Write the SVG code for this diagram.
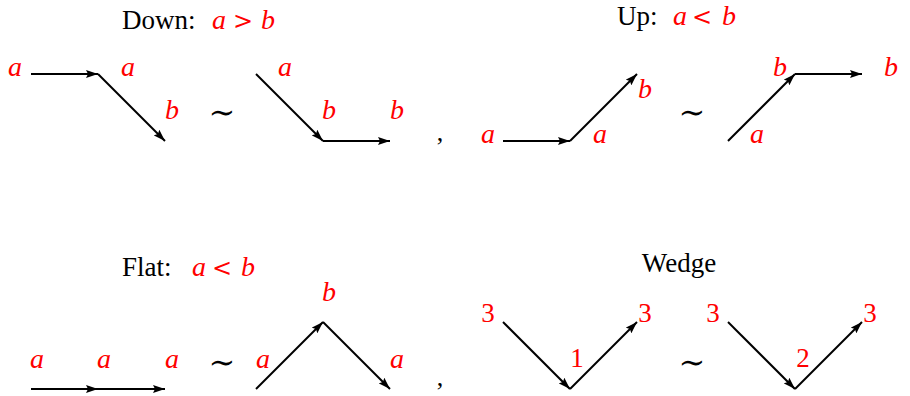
<svg xmlns="http://www.w3.org/2000/svg" width="910" height="396" viewBox="0 0 910 396">
<style>
.t{font-family:"Liberation Serif",serif;font-size:27px;fill:#000}
.r{font-family:"DejaVu Serif",serif;font-size:24px;fill:#ff0000;text-anchor:middle}
.l{font-family:"Liberation Serif",serif;font-style:italic;font-size:28px;fill:#ff0000;text-anchor:middle}
.n{font-family:"Liberation Serif",serif;font-size:27px;fill:#ff0000;text-anchor:middle}
.s{font-family:"DejaVu Serif",serif;font-size:32px;fill:#000;text-anchor:middle}
.c{font-family:"Liberation Serif",serif;font-size:26px;fill:#000;text-anchor:middle}
.e{stroke:#000;stroke-width:2;fill:none}
.a{marker-end:url(#ah)}
</style>
<defs>
<marker id="ah" markerUnits="userSpaceOnUse" markerWidth="13" markerHeight="9" refX="12" refY="4.5" orient="auto">
<path d="M0,0.5 L12,4.5 L0,8.5 L2,4.5 z" fill="#000"/>
</marker>
</defs>
<g id="connectors">
<line class="e a" x1="31" y1="74" x2="98" y2="74"/>
<line class="e a" x1="98" y1="74" x2="165" y2="141"/>
<line class="e a" x1="256" y1="74" x2="323" y2="141"/>
<line class="e a" x1="323" y1="141" x2="390" y2="141"/>
<line class="e a" x1="503" y1="141" x2="570" y2="141"/>
<line class="e a" x1="570" y1="141" x2="637" y2="74"/>
<line class="e a" x1="728" y1="141" x2="795" y2="74"/>
<line class="e a" x1="795" y1="74" x2="862" y2="74"/>
<line class="e a" x1="31" y1="389" x2="98" y2="389"/>
<line class="e a" x1="98" y1="389" x2="165" y2="389"/>
<line class="e a" x1="256" y1="389" x2="323" y2="322"/>
<line class="e a" x1="323" y1="322" x2="390" y2="389"/>
<line class="e a" x1="503" y1="322" x2="570" y2="389"/>
<line class="e a" x1="570" y1="389" x2="637" y2="322"/>
<line class="e a" x1="728" y1="322" x2="795" y2="389"/>
<line class="e a" x1="795" y1="389" x2="862" y2="322"/>
</g>
<g id="down">
<text class="t" x="122" y="29">Down:</text>
<text class="l" x="219" y="29">a</text>
<text class="r" x="243" y="29">&gt;</text>
<text class="l" x="268" y="29">b</text>
<text class="l" x="15" y="76">a</text>
<text class="l" x="128" y="76">a</text>
<text class="l" x="172" y="119">b</text>
<text class="s" x="222" y="123">∼</text>
<text class="l" x="285" y="76">a</text>
<text class="l" x="329" y="119">b</text>
<text class="l" x="397" y="119">b</text>
<text class="c" x="440" y="141">,</text>
</g>
<g id="up">
<text class="t" x="617" y="25">Up:</text>
<text class="l" x="680" y="25">a</text>
<text class="r" x="702" y="25">&lt;</text>
<text class="l" x="729" y="25">b</text>
<text class="l" x="488" y="143">a</text>
<text class="l" x="600" y="143">a</text>
<text class="l" x="645" y="98">b</text>
<text class="s" x="692" y="123">∼</text>
<text class="l" x="757" y="143">a</text>
<text class="l" x="780" y="76">b</text>
<text class="l" x="891" y="76">b</text>
</g>
<g id="flat">
<text class="t" x="122" y="276">Flat:</text>
<text class="l" x="199" y="276">a</text>
<text class="r" x="222" y="276">&lt;</text>
<text class="l" x="248" y="276">b</text>
<text class="l" x="37" y="368">a</text>
<text class="l" x="104" y="368">a</text>
<text class="l" x="172" y="368">a</text>
<text class="s" x="222" y="373">∼</text>
<text class="l" x="263" y="368">a</text>
<text class="l" x="329" y="301">b</text>
<text class="l" x="397" y="368">a</text>
<text class="c" x="440" y="386">,</text>
</g>
<g id="wedge">
<text class="t" x="679" y="272" text-anchor="middle">Wedge</text>
<text class="n" x="488" y="322">3</text>
<text class="n" x="577" y="367">1</text>
<text class="n" x="645" y="322">3</text>
<text class="s" x="692" y="373">∼</text>
<text class="n" x="713" y="322">3</text>
<text class="n" x="803" y="367">2</text>
<text class="n" x="870" y="322">3</text>
</g>
</svg>
